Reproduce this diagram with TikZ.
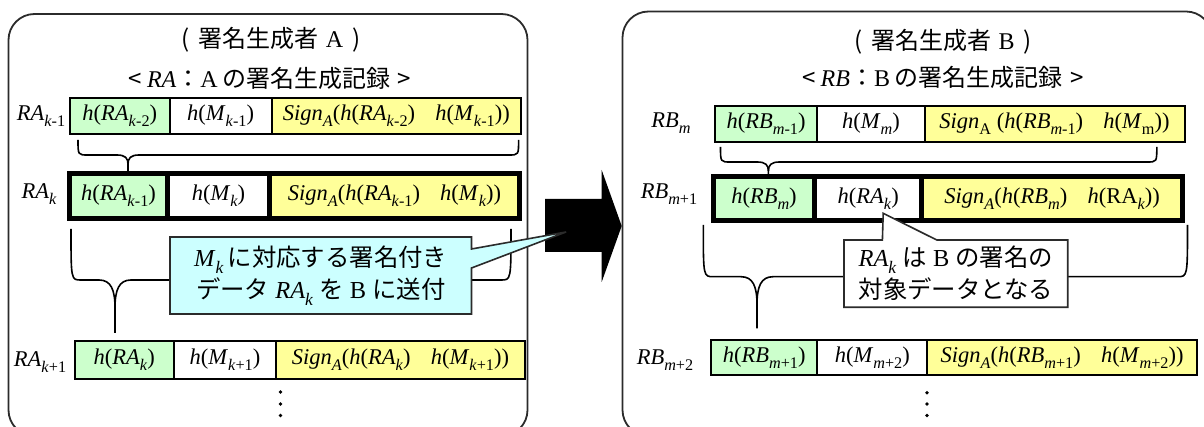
\documentclass[tikz,border=0pt]{standalone}
\usepackage{fontspec}
\setmainfont{Liberation Serif}
\newfontfamily\jp{Noto Sans CJK JP}
\usetikzlibrary{calc}

\definecolor{cellgreen}{HTML}{CCFFCC}
\definecolor{cellyellow}{HTML}{FFFF99}
\definecolor{notecyan}{HTML}{CCFFFF}
\definecolor{framegray}{HTML}{2B2B2B}

% subscript and italic helpers
\newcommand\sbx[1]{\raisebox{-0.28em}{\scalebox{0.72}{#1}}}
\newcommand\ii[1]{\textit{#1}}

% downward curly brace: x-left, x-right, y-ends, y-bar, x-cusp, y-tip, cusp depth, cusp reach
\newcommand\dbrace[8]{%
  \draw[bracel] (#1,#3) .. controls (#1,#4) .. ({#1+10},#4) -- ({#5-#8},#4)
     .. controls ({#5-0.25*#8},#4) and (#5,{#4+0.35*#7}) .. (#5,{#4+#7}) -- (#5,#6);
  \draw[bracel] (#2,#3) .. controls (#2,#4) .. ({#2-10},#4) -- ({#5+#8},#4)
     .. controls ({#5+0.25*#8},#4) and (#5,{#4+0.35*#7}) .. (#5,{#4+#7});
}

\begin{document}
\begin{tikzpicture}[x=1pt,y=-1pt,
  panel/.style={draw=framegray, line width=1.8pt, rounded corners=26pt},
  cell/.style={draw=black, line width=2pt, inner sep=0pt, font=\fontsize{22.5}{26}\selectfont},
  thickcell/.style={cell, line width=4.5pt},
  rowlabel/.style={inner sep=0pt, font=\fontsize{22.5}{26}\selectfont},
  title/.style={inner sep=0pt, font=\fontsize{24}{30}\selectfont},
  notetext/.style={inner sep=0pt, align=center, font=\fontsize{24.4}{32}\selectfont},
  notebox/.style={draw=framegray, line width=1.6pt, line join=miter},
  bracel/.style={draw=black, line width=1.6pt},
  dotmark/.style={fill=black}]

\useasboundingbox (0,0) rectangle (1204,427);
\fill[white] (0,0) rectangle (1204,427);
\clip (0,0) rectangle (1204,427);

% ---------- the two panels ----------
\draw[panel] (8.5,14) rectangle (527.5,436);
\draw[panel] (622.5,11.5) rectangle (1212,436);

% ---------- transfer arrow ----------
\fill[black] (545,199) -- (601.7,199) -- (601.7,170) -- (621.7,226)
  -- (601.7,282) -- (601.7,252) -- (545,252) -- cycle;

% ---------- panel A ----------
\node[title] (tA1) at (271,40) {{\jp (\hspace{0.38em}署名生成者\hspace{0.3em}}A{\jp\hspace{0.38em})}};
\node[title] (tA2) at (270,78) {{\jp <\hspace{0.2em}}\ii{RA}{\jp ：}A{\jp\hspace{0.2em}の署名生成記録\hspace{0.3em}>}};

\node[rowlabel] (lA1) at (41,116) {\ii{RA}\sbx{\ii{k}-1}};
\node[cell, fill=cellgreen, minimum width=99.5pt, minimum height=36pt] (a1g) at (119.75,116)
  {\ii{h}(\ii{RA}\sbx{\ii{k}-2})};
\node[cell, fill=white, minimum width=102.2pt, minimum height=36pt] (a1w) at (220.6,116)
  {\ii{h}(\ii{M}\sbx{\ii{k}-1})};
\node[cell, fill=cellyellow, minimum width=249.3pt, minimum height=36pt] (a1y) at (396.35,116)
  {\ii{Sign}\sbx{\ii{A}}(\ii{h}(\ii{RA}\sbx{\ii{k}-2})\hspace{0.9em}\ii{h}(\ii{M}\sbx{\ii{k}-1}))};

\node[rowlabel] (lA2) at (39,194) {\ii{RA}\sbx{\ii{k}}};
\node[thickcell, fill=cellgreen, minimum width=98pt, minimum height=45pt] (a2g) at (118.5,196)
  {\ii{h}(\ii{RA}\sbx{\ii{k}-1})};
\node[thickcell, fill=white, minimum width=102pt, minimum height=45pt] (a2w) at (218.5,196)
  {\ii{h}(\ii{M}\sbx{\ii{k}})};
\node[thickcell, fill=cellyellow, minimum width=250pt, minimum height=45pt] (a2y) at (394.5,196)
  {\ii{Sign}\sbx{\ii{A}}(\ii{h}(\ii{RA}\sbx{\ii{k}-1})\hspace{0.9em}\ii{h}(\ii{M}\sbx{\ii{k}}))};

\node[rowlabel] (lA3) at (40,362) {\ii{RA}\sbx{\ii{k}+1}};
\node[cell, fill=cellgreen, minimum width=99.4pt, minimum height=37pt] (a3g) at (124.3,360)
  {\ii{h}(\ii{RA}\sbx{\ii{k}})};
\node[cell, fill=white, minimum width=102pt, minimum height=37pt] (a3w) at (225,360)
  {\ii{h}(\ii{M}\sbx{\ii{k}+1})};
\node[cell, fill=cellyellow, minimum width=249pt, minimum height=37pt] (a3y) at (400.5,360)
  {\ii{Sign}\sbx{\ii{A}}(\ii{h}(\ii{RA}\sbx{\ii{k}})\hspace{0.9em}\ii{h}(\ii{M}\sbx{\ii{k}+1}))};

\dbrace{78}{518.6}{140}{155}{128}{171.5}{9}{11}
\dbrace{71}{511}{229}{280}{115}{333}{28}{16}

\fill[dotmark] (280.5,392) circle (1.9pt) (280.5,404) circle (1.9pt) (280.5,415.5) circle (1.9pt);

% callout of panel A (over the arrow)
\coordinate (tipA) at (566,232);
\filldraw[notebox, fill=notecyan] (170,237) -- (471.5,237) -- (471.5,249) -- (tipA)
  -- (471.5,268) -- (471.5,314) -- (170,314) -- cycle;
\node[notetext] (noteA) at (320.75,275.5)
  {\ii{M}\sbx{\ii{k}}\,{\jp に対応する署名付き}\\{\jp データ} \ii{RA}\sbx{\ii{k}} {\jp を} B {\jp に送付}};

% ---------- panel B ----------
\node[title] (tB1) at (943,42) {{\jp (\hspace{0.38em}署名生成者\hspace{0.3em}}B{\jp\hspace{0.38em})}};
\node[title] (tB2) at (943,77) {{\jp <\hspace{0.2em}}\ii{RB}{\jp ：}B{\jp\hspace{0.2em}の署名生成記録\hspace{0.3em}>}};

\node[rowlabel] (lB1) at (671,123) {\ii{RB}\sbx{\ii{m}}};
\node[cell, fill=cellgreen, minimum width=102.6pt, minimum height=35.7pt] (b1g) at (766.1,123.85)
  {\ii{h}(\ii{RB}\sbx{\ii{m}-1})};
\node[cell, fill=white, minimum width=107.1pt, minimum height=35.7pt] (b1w) at (870.95,123.85)
  {\ii{h}(\ii{M}\sbx{\ii{m}})};
\node[cell, fill=cellyellow, minimum width=260pt, minimum height=35.7pt] (b1y) at (1054.5,123.85)
  {\ii{Sign}\sbx{A} (\ii{h}(\ii{RB}\sbx{\ii{m}-1})\hspace{0.9em}\ii{h}(\ii{M}\sbx{m}))};

\node[rowlabel] (lB2) at (669,194) {\ii{RB}\sbx{\ii{m}+1}};
\node[thickcell, fill=cellgreen, minimum width=101.4pt, minimum height=44pt] (b2g) at (764,198.5)
  {\ii{h}(\ii{RB}\sbx{\ii{m}})};
\node[thickcell, fill=white, minimum width=107pt, minimum height=44pt] (b2w) at (868.2,198.5)
  {\ii{h}(\ii{RA}\sbx{\ii{k}})};
\node[thickcell, fill=cellyellow, minimum width=261pt, minimum height=44pt] (b2y) at (1052.2,198.5)
  {\ii{Sign}\sbx{\ii{A}}(\ii{h}(\ii{RB}\sbx{\ii{m}})\hspace{0.9em}\ii{h}(RA\sbx{\ii{k}}))};

\node[rowlabel] (lB3) at (665,360) {\ii{RB}\sbx{\ii{m}+2}};
\node[cell, fill=cellgreen, minimum width=106.4pt, minimum height=35pt] (b3g) at (764.2,357.5)
  {\ii{h}(\ii{RB}\sbx{\ii{m}+1})};
\node[cell, fill=white, minimum width=109.8pt, minimum height=35pt] (b3w) at (872.3,357.5)
  {\ii{h}(\ii{M}\sbx{\ii{m}+2})};
\node[cell, fill=cellyellow, minimum width=269.8pt, minimum height=35pt] (b3y) at (1062.1,357.5)
  {\ii{Sign}\sbx{\ii{A}}(\ii{h}(\ii{RB}\sbx{\ii{m}+1})\hspace{0.9em}\ii{h}(\ii{M}\sbx{\ii{m}+2}))};

\dbrace{720.5}{1156.8}{147}{162}{768.4}{174}{9}{11}
\dbrace{703.3}{1187.5}{225}{276.7}{757}{328.3}{28}{16}

\fill[dotmark] (927,392.7) circle (1.9pt) (927,404) circle (1.9pt) (927,415.5) circle (1.9pt);

% callout of panel B (points into the record above)
\coordinate (tipB) at (883.2,213.3);
\filldraw[notebox, fill=white] (844,240) -- (882.4,240) -- (tipB) -- (936.8,240)
  -- (1067.7,240) -- (1067.7,307.3) -- (844,307.3) -- cycle;
\node[notetext] (noteB) at (955.85,273.65)
  {\ii{RA}\sbx{\ii{k}} {\jp は} B {\jp の署名の}\\{\jp 対象データとなる}};

\end{tikzpicture}
\end{document}
